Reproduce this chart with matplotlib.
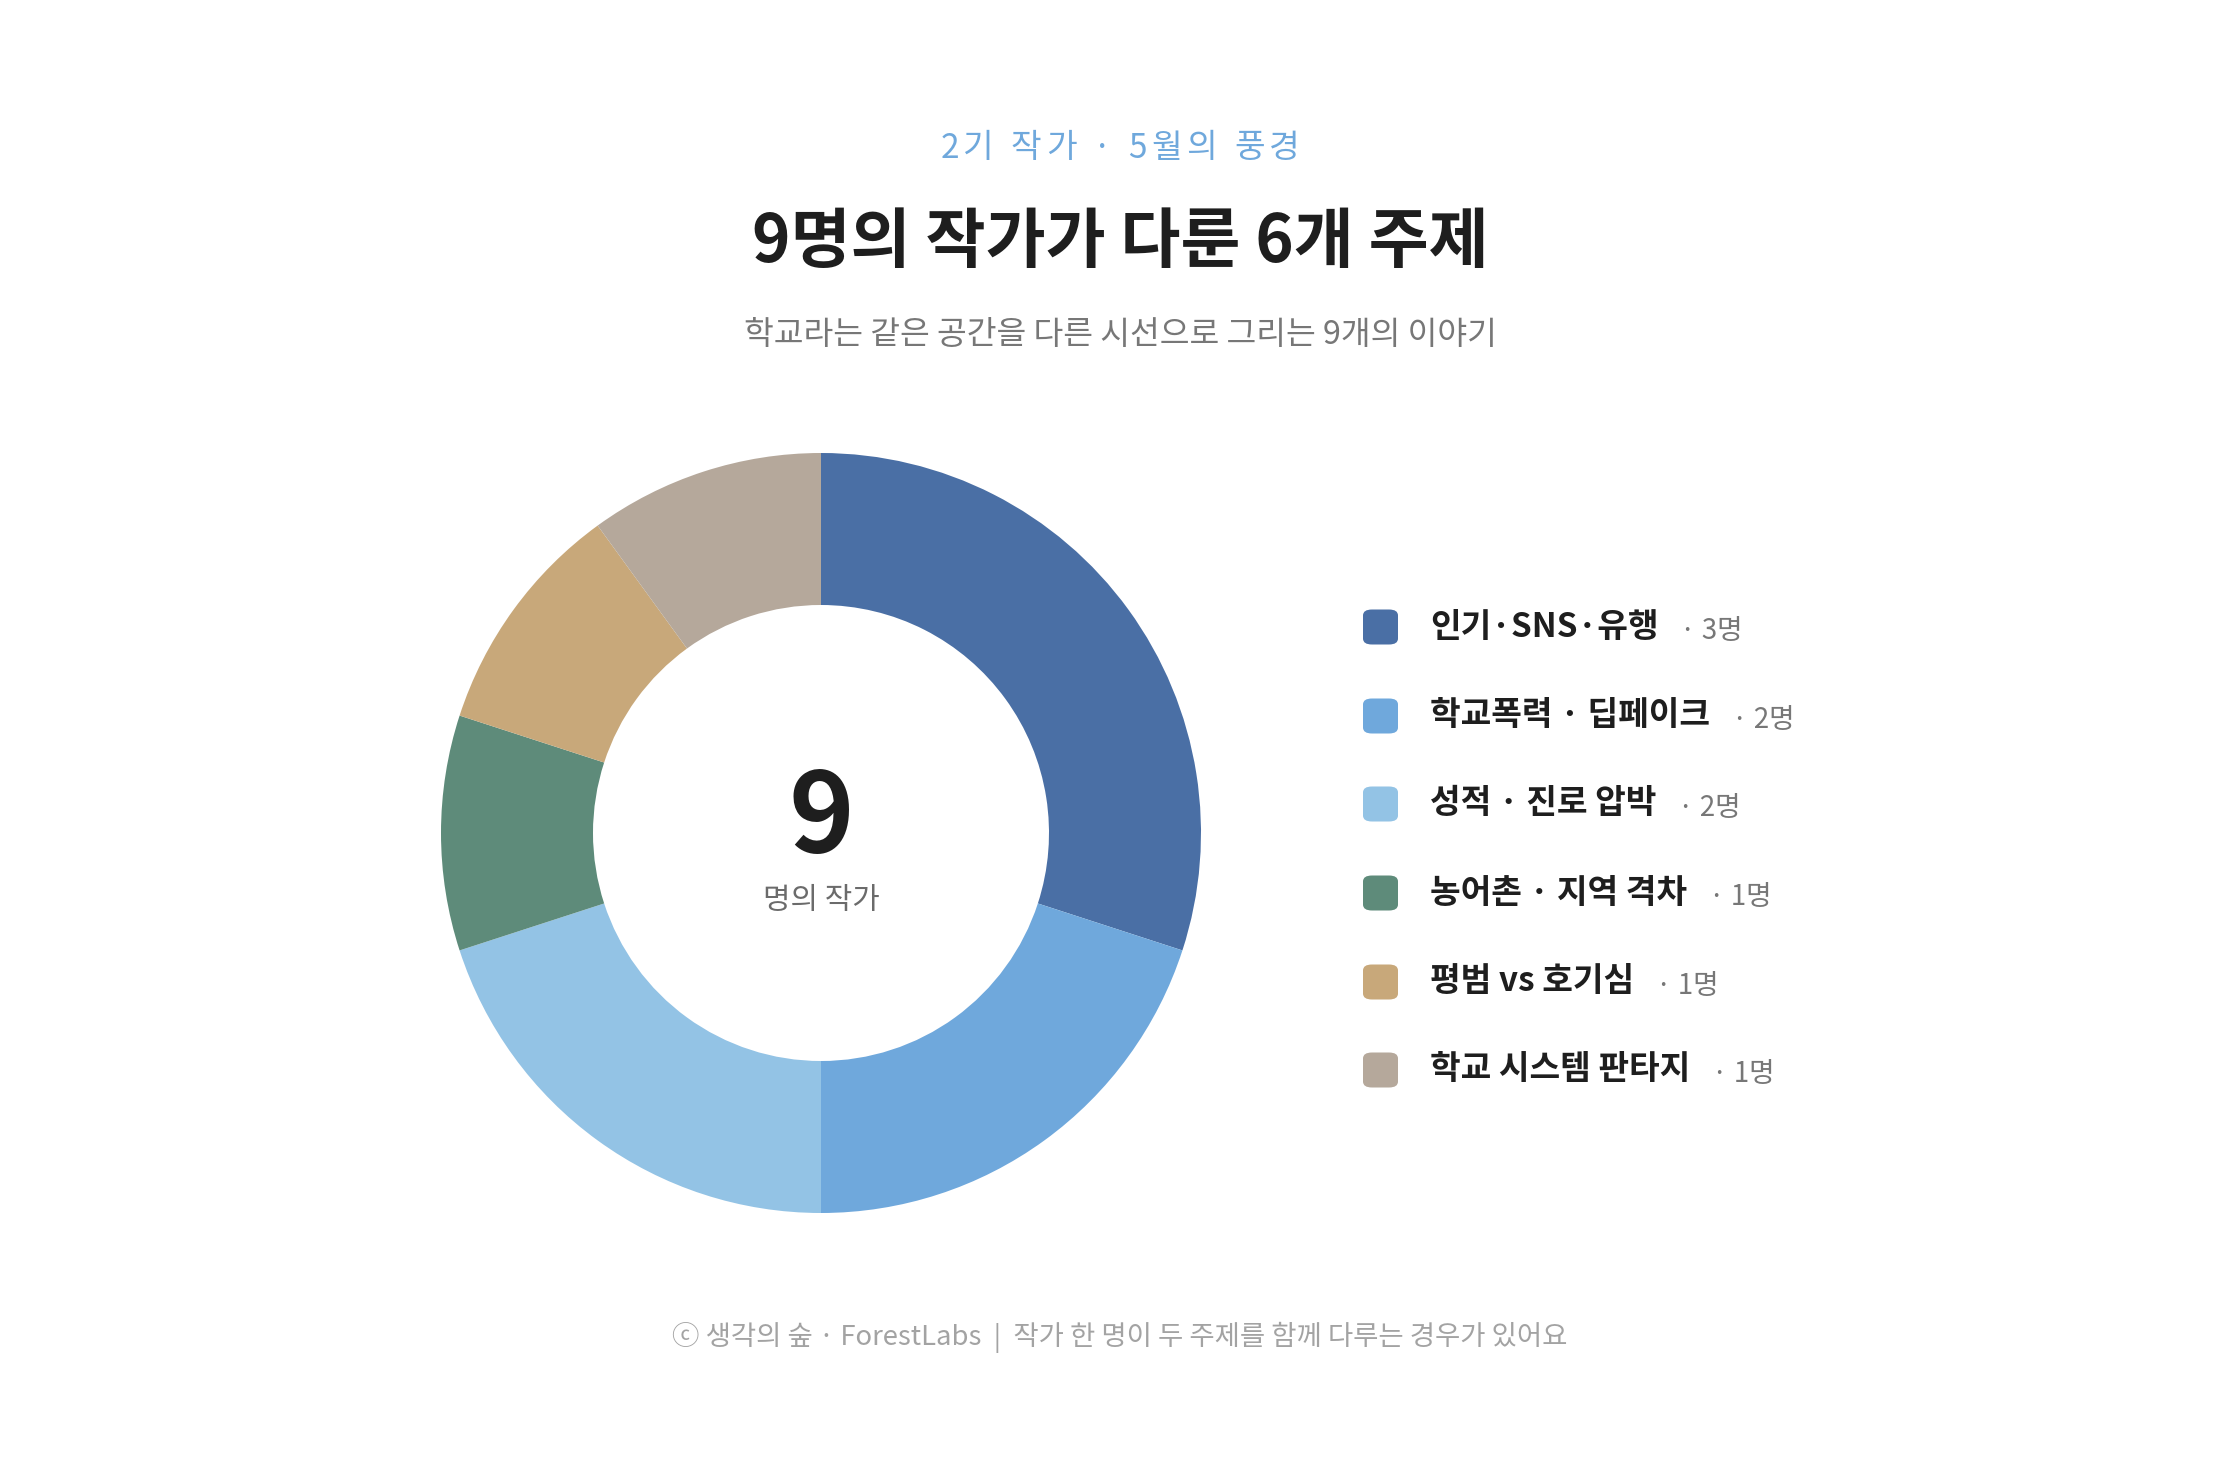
import matplotlib.pyplot as plt
from matplotlib.patches import FancyBboxPatch

plt.rcParams['font.family'] = ['Noto Sans CJK KR', 'DejaVu Sans']

# data
topics = ['인기·SNS·유행', '학교폭력 · 딥페이크', '성적 · 진로 압박', '농어촌 · 지역 격차', '평범 vs 호기심', '학교 시스템 판타지']
writers = [3, 2, 2, 1, 1, 1]
colors = ['#4a6fa5', '#6fa8dc', '#93c3e5', '#5e8b7a', '#c8a87a', '#b5a89b']
total_writers = 9

W, H = 2240, 1472
fig = plt.figure(figsize=(W / 100, H / 100), dpi=100)
fig.patch.set_facecolor('white')

def fx(x):
    return x / W

def fy(y):
    return 1 - y / H

# donut
cx, cy, R = 821, 833, 380
ax = fig.add_axes([fx(cx - R), fy(cy + R), 2 * R / W, 2 * R / H])
ax.pie(writers, colors=colors, startangle=90, counterclock=False, radius=1,
       wedgeprops=dict(width=0.4, edgecolor='none'))
ax.set_xlim(-1, 1)
ax.set_ylim(-1, 1)
ax.axis('off')

fig.canvas.draw()
renderer = fig.canvas.get_renderer()

# center label
fig.text(fx(cx), fy(820), str(total_writers), ha='center', va='center',
         fontsize=80, fontweight='bold', color='#1e1e1e')
fig.text(fx(cx), fy(901), '명의 작가', ha='center', va='center',
         fontsize=21.5, color='#6b6b6b')

# header with letter spacing
def spaced_text(s, xc, y, width, **kw):
    parts = []
    widths = []
    for ch in s:
        if ch == ' ':
            parts.append(None)
            widths.append(8)
            continue
        t = fig.text(0, fy(y), ch, ha='left', va='center', **kw)
        parts.append(t)
        widths.append(t.get_window_extent(renderer).width)
    track = (width - sum(widths)) / (len(s) - 1)
    x = xc - width / 2
    for t, w in zip(parts, widths):
        if t is not None:
            t.set_x(x / W)
        x += w + track

spaced_text('2기 작가 · 5월의 풍경', 1120, 148, 359, fontsize=24, color='#6fa8dc')

fig.text(0.5, fy(242), '9명의 작가가 다룬 6개 주제', ha='center', va='center',
         fontsize=47, fontweight='bold', color='#1e1e1e')
fig.text(0.5, fy(335), '학교라는 같은 공간을 다른 시선으로 그리는 9개의 이야기', ha='center',
         va='center', fontsize=23.3, color='#777777', fontweight='light')

# legend
row_y = [627, 716, 804, 893, 982, 1070]
sq = 35
for name, n, c, y in zip(topics, writers, colors, row_y):
    box = FancyBboxPatch((fx(1363), fy(y + sq / 2)), sq / W, sq / H,
                         boxstyle='round,pad=0,rounding_size=0.004',
                         transform=fig.transFigure, facecolor=c, edgecolor='none')
    fig.patches.append(box)
    t = fig.text(fx(1430), fy(y), name, ha='left', va='center',
                 fontsize=24, fontweight='bold', color='#1e1e1e')
    bb = t.get_window_extent(renderer)
    fig.text((bb.x1 + 22) / W, fy(y + 4), f'· {n}명', ha='left', va='center',
             fontsize=20, color='#777777')

# footer
fig.text(0.5, fy(1337), 'ⓒ 생각의 숲 · ForestLabs  |  작가 한 명이 두 주제를 함께 다루는 경우가 있어요',
         ha='center', va='center', fontsize=19.8, color='#a3a3a3', fontweight='light')

fig.savefig('out.png', dpi=100, facecolor='white')
